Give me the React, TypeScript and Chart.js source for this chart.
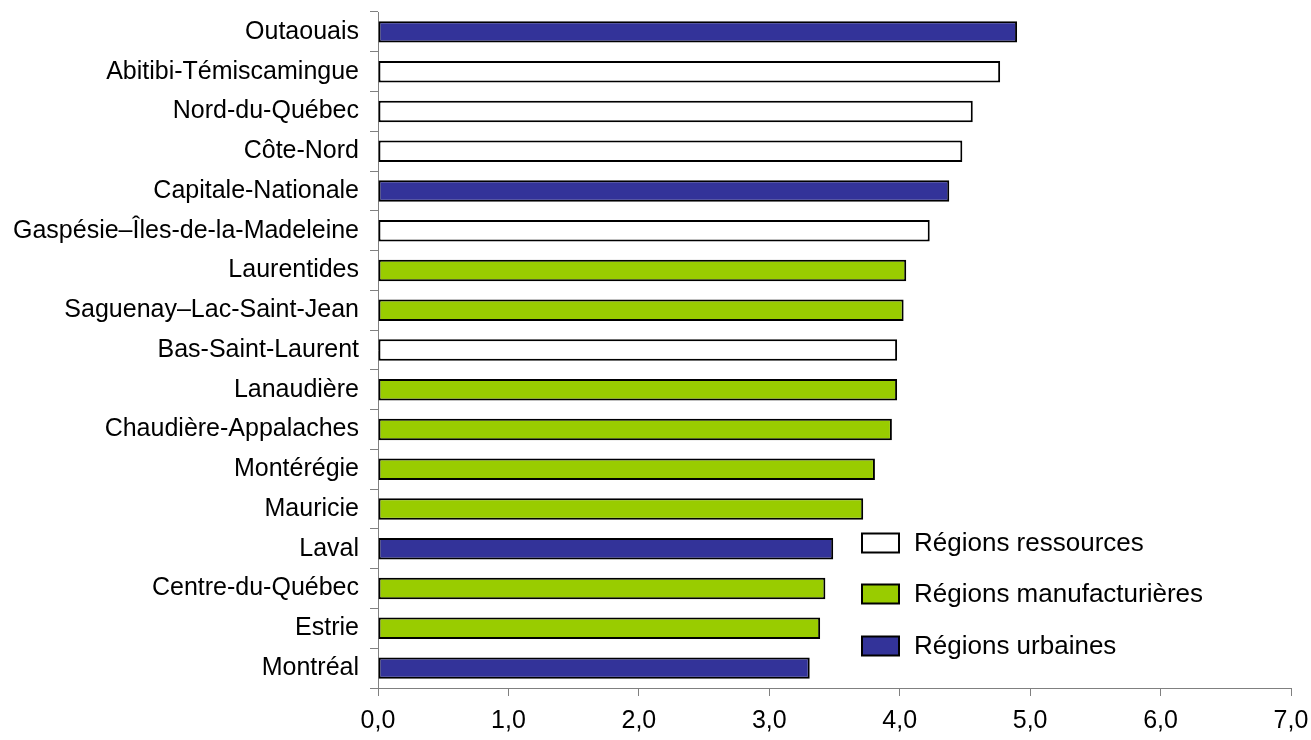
import React, { useEffect, useRef } from "react";
import { Chart, registerables } from "chart.js";

Chart.register(...registerables);

const categories = [
  "Outaouais",
  "Abitibi-Témiscamingue",
  "Nord-du-Québec",
  "Côte-Nord",
  "Capitale-Nationale",
  "Gaspésie–Îles-de-la-Madeleine",
  "Laurentides",
  "Saguenay–Lac-Saint-Jean",
  "Bas-Saint-Laurent",
  "Lanaudière",
  "Chaudière-Appalaches",
  "Montérégie",
  "Mauricie",
  "Laval",
  "Centre-du-Québec",
  "Estrie",
  "Montréal",
];

const values = [4.9, 4.77, 4.56, 4.48, 4.38, 4.23, 4.05, 4.03, 3.98, 3.98, 3.94, 3.81, 3.72, 3.49, 3.43, 3.39, 3.31];

// group of each category: r = ressources, m = manufacturières, u = urbaines
const groups = ["u", "r", "r", "r", "u", "r", "m", "m", "r", "m", "m", "m", "m", "u", "m", "m", "u"];

const groupKeys = ["r", "m", "u"];
const groupLabels = ["Régions ressources", "Régions manufacturières", "Régions urbaines"];
const groupColors = ["#FFFFFF", "#99CC00", "#333399"];

const xTicks = [0, 1, 2, 3, 4, 5, 6, 7];

const FONT = "'Liberation Sans', Arial, sans-serif";

export default function App() {
  const ref = useRef<HTMLCanvasElement | null>(null);

  useEffect(() => {
    document.body.style.margin = "0";
    document.body.style.overflow = "hidden";
    const canvas = ref.current;
    if (!canvas) return;

    const datasets = groupKeys.map((g, gi) => ({
      label: groupLabels[gi],
      data: values.map((v, i) => (groups[i] === g ? v : null)),
      backgroundColor: groupColors[gi],
      borderColor: "#000000",
      borderWidth: 2,
      borderSkipped: false as const,
      grouped: false,
      categoryPercentage: 1,
      barPercentage: 0.54,
    }));

    const legendPlugin = {
      id: "customLegend",
      afterDatasetsDraw(chart: any) {
        const ctx = chart.ctx;
        const area = chart.chartArea;
        const boxX = area.left + 484;
        const boxW = 37;
        const boxH = 19;
        const rowsY = [area.top + 531, area.top + 582, area.top + 634];
        ctx.save();
        groupKeys.forEach((_, gi) => {
          const cy = rowsY[gi];
          ctx.fillStyle = groupColors[gi];
          ctx.fillRect(boxX, cy - boxH / 2, boxW, boxH);
          ctx.lineWidth = 2;
          ctx.strokeStyle = "#000000";
          ctx.strokeRect(boxX, cy - boxH / 2, boxW, boxH);
          ctx.fillStyle = "#000000";
          ctx.font = `26px ${FONT}`;
          ctx.textAlign = "left";
          ctx.textBaseline = "middle";
          ctx.fillText(groupLabels[gi], boxX + boxW + 15, cy + 1);
        });
        ctx.restore();
      },
    };

    const chart = new Chart(canvas, {
      type: "bar",
      data: { labels: categories, datasets },
      plugins: [legendPlugin],
      options: {
        indexAxis: "y",
        responsive: false,
        animation: false,
        layout: { padding: { top: 12, right: 20, bottom: 0, left: 0 } },
        plugins: {
          legend: { display: false },
          tooltip: { enabled: false },
        },
        scales: {
          x: {
            type: "linear",
            min: 0,
            max: 7,
            afterFit(scale: any) {
              scale.height = 52;
              scale.paddingLeft = 0;
              scale.paddingRight = 0;
            },
            afterBuildTicks(scale: any) {
              scale.ticks = xTicks.map((v) => ({ value: v }));
            },
            ticks: {
              color: "#000000",
              font: { family: FONT, size: 25 },
              padding: 10,
              maxRotation: 0,
              callback: (v: any) => Number(v).toFixed(1).replace(".", ","),
            },
            grid: {
              drawOnChartArea: false,
              drawTicks: true,
              tickLength: 8,
              color: "#808080",
              lineWidth: 1,
            },
            border: { display: true, color: "#808080", width: 1 },
          },
          y: {
            type: "category",
            offset: true,
            afterFit(scale: any) {
              scale.width = 378;
              scale.paddingTop = 0;
              scale.paddingBottom = 0;
            },
            ticks: {
              color: "#000000",
              font: { family: FONT, size: 25 },
              padding: 11,
              autoSkip: false,
            },
            grid: {
              offset: true,
              drawOnChartArea: false,
              drawTicks: true,
              tickLength: 8,
              color: "#808080",
              lineWidth: 1,
            },
            border: { display: true, color: "#808080", width: 1 },
          },
        },
      },
    });

    return () => chart.destroy();
  }, []);

  return (
    <div style={{ width: 1311, height: 740 }}>
      <canvas ref={ref} width={1311} height={740} style={{ display: "block" }} />
    </div>
  );
}
